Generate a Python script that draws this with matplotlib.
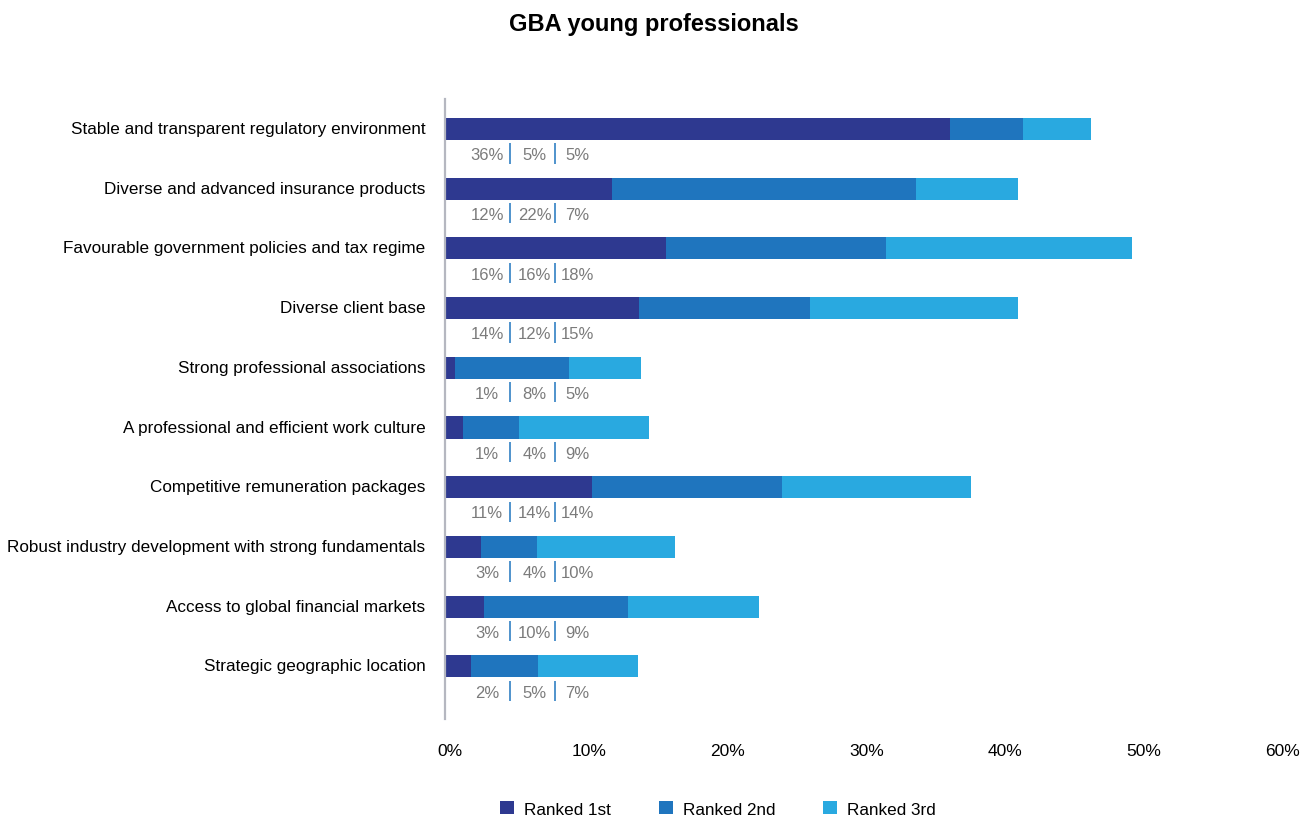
import numpy as np
import matplotlib
matplotlib.use("Agg")
from matplotlib import pyplot as plt
from matplotlib.patches import Patch
from matplotlib.transforms import ScaledTranslation

plt.rcParams['font.family'] = ['Liberation Sans', 'DejaVu Sans']

# share of respondents (%) per factor and rank
categories = [
    "Stable and transparent regulatory environment",
    "Diverse and advanced insurance products",
    "Favourable government policies and tax regime",
    "Diverse client base",
    "Strong professional associations",
    "A professional and efficient work culture",
    "Competitive remuneration packages",
    "Robust industry development with strong fundamentals",
    "Access to global financial markets",
    "Strategic geographic location",
]
rank1 = [36.4, 12.0, 15.9, 14.0, 0.7, 1.3, 10.6, 2.6, 2.8, 1.9]
rank2 = [5.2, 21.9, 15.9, 12.3, 8.2, 4.0, 13.7, 4.0, 10.4, 4.8]
rank3 = [4.9, 7.4, 17.7, 15.0, 5.2, 9.4, 13.6, 10.0, 9.4, 7.2]
series_names = ["Ranked 1st", "Ranked 2nd", "Ranked 3rd"]
xticks = [0, 10, 20, 30, 40, 50, 60]

colors = ["#2e3990", "#1f75be", "#29a9e0"]
label_grey = "#7b7b7b"

fig = plt.figure(figsize=(13.08, 8.2), dpi=100)
ax = fig.add_axes([445 / 1308, 1 - 720 / 820, 833 / 1308, 620 / 820])

y = np.arange(len(categories))
r1 = np.array(rank1)
r2 = np.array(rank2)
r3 = np.array(rank3)

bar_h = 0.37
ax.barh(y, r1, height=bar_h, color=colors[0])
ax.barh(y, r2, left=r1, height=bar_h, color=colors[1])
ax.barh(y, r3, left=r1 + r2, height=bar_h, color=colors[2])

# value row under each bar, split by thin blue dividers
text_x = [3.03, 6.45, 9.51]
divider_x = [4.68, 7.92]
for i in range(len(categories)):
    vals = [rank1[i], rank2[i], rank3[i]]
    for tx, v in zip(text_x, vals):
        ax.text(tx, y[i] + 0.43, f"{v:.0f}%", ha="center", va="center",
                fontsize=12, color=label_grey)
    ax.vlines(divider_x, y[i] + 0.24, y[i] + 0.58, color=colors[1], lw=1.1)

ax.set_xlim(0, 60)
ax.set_ylim(9.88, -0.5)

ax.set_yticks(y)
ax.set_yticklabels(categories, fontsize=12.3, color="black")
ax.set_xticks(xticks)
ax.set_xticklabels([f"{t}%" for t in xticks], fontsize=12.5, color="black")
ax.tick_params(axis="y", length=0, pad=14)
ax.tick_params(axis="x", length=0, pad=17)
shift = ScaledTranslation(5 / 100, 0, fig.dpi_scale_trans)
for lab in ax.get_xticklabels():
    lab.set_transform(lab.get_transform() + shift)
nudge = ScaledTranslation(0, 2 / 100, fig.dpi_scale_trans)
for lab in ax.get_yticklabels():
    lab.set_transform(lab.get_transform() + nudge)

for side in ["top", "right", "bottom"]:
    ax.spines[side].set_visible(False)
ax.spines["left"].set_color("#b5b7c0")
ax.spines["left"].set_linewidth(1.6)

fig.text(0.5, 1 - 25 / 820, "GBA young professionals", ha="center", va="center",
         fontsize=17, fontweight="bold")

handles = [Patch(facecolor=c, edgecolor="none") for c in colors]
fig.legend(handles, series_names, loc="center", bbox_to_anchor=(718 / 1308, 1 - 810 / 820),
           ncol=3, frameon=False, fontsize=12.3, handlelength=0.8, handleheight=0.8,
           handletextpad=0.6, columnspacing=2.8)

fig.savefig("out.png", dpi=100)
